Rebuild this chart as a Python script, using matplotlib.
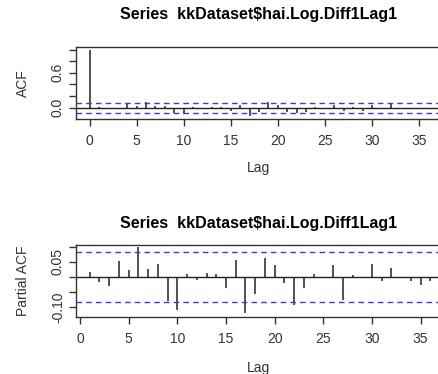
import matplotlib
matplotlib.use("Agg")
import matplotlib.pyplot as plt
import numpy as np

plt.rcParams['font.family'] = ['Liberation Sans', 'DejaVu Sans']

# ACF, lags 0..36
acf_lags = np.arange(0, 37)
acf_vals = [1.0, 0.01, -0.02, -0.03, 0.055, 0.02, 0.09, 0.02, 0.035, -0.10,
            -0.115, 0.005, -0.01, 0.01, 0.005, -0.05, 0.05, -0.14, -0.07, 0.09,
            0.05, -0.07, -0.10, -0.07, 0.01, -0.005, 0.045, -0.06, 0.01, -0.06,
            0.05, -0.01, 0.08, -0.01, -0.02, -0.03, -0.02]

# PACF, lags 1..36
pacf_lags = np.arange(1, 37)
pacf_vals = [0.015, -0.018, -0.031, 0.053, 0.024, 0.099, 0.027, 0.041, -0.082,
             -0.110, 0.008, -0.011, 0.011, 0.009, -0.036, 0.055, -0.122, -0.058,
             0.062, 0.038, -0.021, -0.094, -0.037, 0.010, -0.005, 0.038, -0.076,
             0.007, -0.005, 0.041, -0.015, 0.028, -0.002, -0.015, -0.029, -0.015]

conf = 0.084
title = "Series  kkDataset\\$hai.Log.Diff1Lag1"
x_ticks = [0, 5, 10, 15, 20, 25, 30, 35]

W, H = 438, 374
fig = plt.figure(figsize=(W / 100, H / 100), dpi=100)


def px_axes(left, top, right, bottom):
    return fig.add_axes([left / W, 1 - bottom / H, (right - left) / W, (bottom - top) / H])


def style(ax):
    for s in ax.spines.values():
        s.set_linewidth(1.0)
        s.set_color('#333333')
    ax.tick_params(direction='out', length=5, width=1.0, color='#333333',
                   labelsize=10, labelcolor='#333333', pad=6)
    ax.tick_params(axis='y', pad=3)
    for lab in ax.get_yticklabels():
        lab.set_rotation(90)
        lab.set_va('center')


# ACF panel
ax1 = px_axes(76, 47, 442, 119)
ax1.vlines(acf_lags, 0, acf_vals, color='#222222', lw=1.1)
ax1.axhline(0, color='#222222', lw=1.0)
ax1.axhline(conf, color='#3a3ae0', lw=1.0, ls=(0, (4, 3)))
ax1.axhline(-conf, color='#3a3ae0', lw=1.0, ls=(0, (4, 3)))
ax1.set_xlim(-1.44, 37.44)
ax1.set_ylim(-0.196, 1.046)
ax1.set_xticks(x_ticks)
ax1.set_yticks([0.0, 0.2, 0.4, 0.6, 0.8, 1.0], ['0.0', '', '', '0.6', '', ''])
style(ax1)

# PACF panel
ax2 = px_axes(76, 245, 444, 317)
ax2.vlines(pacf_lags, 0, pacf_vals, color='#222222', lw=1.1)
ax2.axhline(0, color='#222222', lw=1.0)
ax2.axhline(conf, color='#3a3ae0', lw=1.0, ls=(0, (4, 3)))
ax2.axhline(-conf, color='#3a3ae0', lw=1.0, ls=(0, (4, 3)))
ax2.set_xlim(-0.41, 37.4)
ax2.set_ylim(-0.134, 0.106)
ax2.set_xticks(x_ticks)
ax2.set_yticks([-0.10, -0.05, 0.0, 0.05, 0.10], ['-0.10', '', '', '0.05', ''])
style(ax2)

# titles and axis labels
fig.text(259 / W, 1 - 15 / H, title, ha='center', va='center', fontsize=11.5, fontweight='bold')
fig.text(259 / W, 1 - 223 / H, title, ha='center', va='center', fontsize=11.5, fontweight='bold')
fig.text(258 / W, 1 - 168 / H, 'Lag', ha='center', va='center', fontsize=10, color='#333333')
fig.text(258 / W, 1 - 368 / H, 'Lag', ha='center', va='center', fontsize=10, color='#333333')
fig.text(23 / W, 1 - 83 / H, 'ACF', ha='center', va='center', rotation=90, fontsize=10, color='#333333')
fig.text(23 / W, 1 - 281 / H, 'Partial ACF', ha='center', va='center', rotation=90, fontsize=10, color='#333333')

fig.savefig('out.png', dpi=100)
